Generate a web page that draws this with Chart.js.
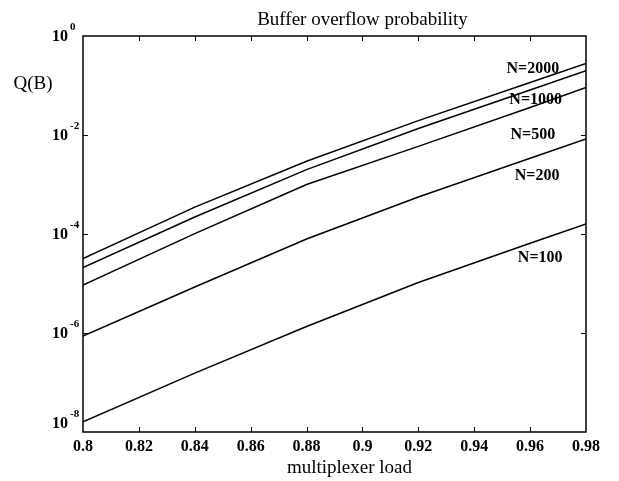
<!DOCTYPE html>
<html>
<head>
<meta charset="utf-8">
<script src="https://cdn.jsdelivr.net/npm/chart.js@4.4.1/dist/chart.umd.min.js"></script>
<style>
    html, body { margin: 0; padding: 0; background: #fff; }
    #wrap { width: 619px; height: 481px; }
</style>
</head>
<body>
<div id="wrap"><canvas id="chart" width="619" height="481"></canvas></div>
<script>
// multiplexer load (x) and overflow probability Q(B) per source count
const loads = [0.8, 0.84, 0.88, 0.92, 0.96, 0.98];
const q2000 = [3.2e-5, 3.5e-4, 2.95e-3, 1.95e-2, 0.115, 0.28];
const q1000 = [2.1e-5, 2.2e-4, 2.0e-3, 1.35e-2, 8.1e-2, 0.20];
const q500 = [9.3e-6, 1.02e-4, 1.0e-3, 5.9e-3, 3.6e-2, 9.1e-2];
const q200 = [8.7e-7, 8.5e-6, 7.9e-5, 5.6e-4, 3.4e-3, 8.3e-3];
const q100 = [1.6e-8, 1.55e-7, 1.35e-6, 1.05e-5, 6.5e-5, 1.6e-4];

const seriesNames = ['N=2000', 'N=1000', 'N=500', 'N=200', 'N=100'];
const seriesValues = [q2000, q1000, q500, q200, q100];

// where the curve names sit, in data units
const labelLoads = [0.961, 0.962, 0.961, 0.9625, 0.9636];
const labelQ = [0.215, 0.051, 0.01, 1.5e-3, 3.3e-5];

const xTicks = [0.8, 0.82, 0.84, 0.86, 0.88, 0.9, 0.92, 0.94, 0.96, 0.98];
const xTickLabels = ['0.8', '0.82', '0.84', '0.86', '0.88', '0.9', '0.92', '0.94', '0.96', '0.98'];
const yTicks = [1, 1e-2, 1e-4, 1e-6, 1e-8];
const yTickExponents = ['0', '-2', '-4', '-6', '-8'];

const SERIF = '"Liberation Serif", "Times New Roman", serif';

const framePlugin = {
    id: 'frame',
    afterDraw(chart) {
        const ctx = chart.ctx;
        const area = chart.chartArea;
        const xs = chart.scales.x;
        const ys = chart.scales.y;
        ctx.save();
        ctx.strokeStyle = '#000';
        ctx.fillStyle = '#000';
        ctx.lineWidth = 1.5;
        ctx.strokeRect(area.left, area.top, area.right - area.left, area.bottom - area.top);

        // inward ticks on all four sides
        ctx.lineWidth = 1;
        ctx.beginPath();
        xTicks.slice(1, -1).forEach(v => {
            const px = Math.round(xs.getPixelForValue(v)) + 0.5;
            ctx.moveTo(px, area.bottom); ctx.lineTo(px, area.bottom - 5);
            ctx.moveTo(px, area.top); ctx.lineTo(px, area.top + 5);
        });
        yTicks.slice(1, -1).forEach(v => {
            const py = Math.round(ys.getPixelForValue(v)) + 0.5;
            ctx.moveTo(area.left, py); ctx.lineTo(area.left + 5, py);
            ctx.moveTo(area.right, py); ctx.lineTo(area.right - 5, py);
        });
        ctx.stroke();

        // y labels as 10 with a raised exponent
        ctx.textBaseline = 'middle';
        yTicks.forEach((v, i) => {
            const py = Math.min(ys.getPixelForValue(v), area.bottom - 9);
            ctx.font = 'bold 16px ' + SERIF;
            ctx.textAlign = 'right';
            ctx.fillText('10', area.left - 15, py + 1);
            ctx.font = 'bold 11px ' + SERIF;
            ctx.textAlign = 'left';
            ctx.fillText(yTickExponents[i], area.left - 13, py - 9);
        });

        // curve names
        ctx.font = 'bold 16px ' + SERIF;
        ctx.textAlign = 'center';
        seriesNames.forEach((name, i) => {
            ctx.fillText(name, xs.getPixelForValue(labelLoads[i]), ys.getPixelForValue(labelQ[i]));
        });

        // titles
        ctx.font = '19px ' + SERIF;
        ctx.fillText('Buffer overflow probability', (area.left + area.right) / 2 + 28, 20);
        ctx.fillText('multiplexer load', (area.left + area.right) / 2 + 15, 468);
        ctx.fillText('Q(B)', 33, 84);
        ctx.restore();
    }
};

new Chart(document.getElementById('chart'), {
    type: 'line',
    data: {
        datasets: seriesValues.map((vals, i) => ({
            label: seriesNames[i],
            data: loads.map((x, j) => ({x: x, y: vals[j]})),
            borderColor: '#000',
            borderWidth: 1.5,
            pointRadius: 0,
            fill: false,
            tension: 0
        }))
    },
    options: {
        responsive: false,
        animation: false,
        devicePixelRatio: 1,
        layout: { padding: { top: 36, right: 33, left: 0, bottom: 0 } },
        plugins: {
            legend: { display: false },
            tooltip: { enabled: false },
            title: { display: false }
        },
        scales: {
            x: {
                type: 'linear',
                min: 0.8,
                max: 0.98,
                afterBuildTicks: s => { s.ticks = xTicks.map(v => ({value: v})); },
                afterFit: s => { s.height = 49; },
                grid: { display: false, drawTicks: false },
                border: { display: false },
                ticks: {
                    padding: 5,
                    color: '#000',
                    autoSkip: false,
                    maxRotation: 0,
                    font: { family: SERIF, size: 16, weight: 'bold' },
                    callback: (v, i) => xTickLabels[i]
                }
            },
            y: {
                type: 'logarithmic',
                min: 1e-8,
                max: 1,
                afterFit: s => { s.width = 83; },
                grid: { display: false, drawTicks: false },
                border: { display: false },
                ticks: { display: false }
            }
        }
    },
    plugins: [framePlugin]
});
</script>
</body>
</html>
